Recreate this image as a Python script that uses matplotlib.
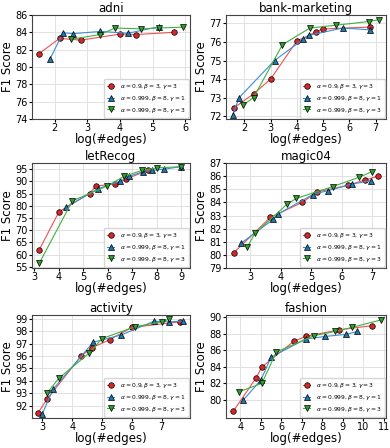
import matplotlib
import matplotlib.pyplot as plt

matplotlib.use('Agg')

labels = [r'$\alpha=0.9, \beta=3, \gamma=3$',
          r'$\alpha=0.999, \beta=8, \gamma=1$',
          r'$\alpha=0.999, \beta=8, \gamma=3$']

# adni
adni_red_x = [1.5, 2.15, 2.8, 4.0, 4.5, 5.65]
adni_red_y = [81.5, 83.3, 83.1, 83.8, 83.75, 84.0]
adni_blue_x = [1.85, 2.25, 2.55, 3.4, 4.25, 5.2]
adni_blue_y = [80.9, 83.95, 83.85, 84.1, 83.9, 84.65]
adni_green_x = [2.5, 3.4, 3.85, 4.65, 5.2, 5.95]
adni_green_y = [83.2, 83.75, 84.5, 84.4, 84.5, 84.6]

# bank-marketing
bank_red_x = [1.6, 2.35, 3.0, 4.0, 4.75, 5.0, 6.8]
bank_red_y = [72.45, 73.2, 74.0, 76.05, 76.55, 76.7, 76.8]
bank_blue_x = [1.55, 1.8, 3.15, 4.25, 4.45, 5.75, 6.8]
bank_blue_y = [72.05, 73.0, 75.0, 76.15, 76.35, 76.75, 76.65]
bank_green_x = [1.95, 2.35, 3.45, 4.5, 5.5, 6.75, 7.15]
bank_green_y = [72.6, 73.0, 75.85, 76.75, 76.9, 77.1, 77.2]

# letRecog
let_red_x = [3.2, 4.0, 5.25, 5.5, 6.3, 6.75, 7.65]
let_red_y = [62.0, 77.5, 85.0, 88.0, 89.0, 91.0, 94.5]
let_blue_x = [4.3, 5.6, 6.5, 6.85, 7.45, 7.8, 8.3, 9.0]
let_blue_y = [79.5, 87.0, 90.0, 92.0, 94.0, 94.5, 95.0, 96.0]
let_green_x = [3.2, 4.55, 5.95, 6.65, 7.4, 8.0, 9.0]
let_green_y = [56.5, 82.0, 88.0, 92.0, 94.5, 95.5, 96.0]

# magic04
magic_red_x = [2.45, 3.65, 4.7, 5.2, 6.2, 6.75, 7.2]
magic_red_y = [80.15, 82.85, 84.0, 84.8, 85.3, 85.7, 86.0]
magic_blue_x = [2.7, 3.75, 3.9, 5.05, 5.55, 6.35, 6.95]
magic_blue_y = [80.9, 82.7, 83.1, 84.6, 84.9, 85.4, 85.65]
magic_green_x = [2.9, 3.15, 4.2, 4.5, 5.7, 6.55, 7.0]
magic_green_y = [80.6, 81.65, 83.85, 84.3, 85.2, 85.9, 86.35]

# activity
act_red_x = [2.85, 3.15, 4.3, 4.65, 5.25, 6.0, 7.6]
act_red_y = [91.4, 92.5, 96.0, 96.65, 97.3, 98.3, 98.75]
act_blue_x = [3.0, 3.35, 4.7, 5.65, 6.75, 7.25, 7.7]
act_blue_y = [91.35, 93.3, 97.1, 97.7, 98.8, 98.75, 98.8]
act_green_x = [3.15, 3.55, 4.55, 5.0, 6.1, 7.0, 7.25]
act_green_y = [93.0, 94.2, 96.2, 97.4, 98.35, 98.75, 98.95]

# fashion
fash_red_x = [3.65, 4.75, 5.05, 6.6, 7.2, 8.8, 10.4]
fash_red_y = [78.6, 82.6, 84.0, 87.1, 87.7, 88.5, 89.0]
fash_blue_x = [4.15, 5.0, 5.5, 7.2, 8.15, 9.15, 9.7]
fash_blue_y = [80.0, 82.4, 85.2, 87.4, 87.7, 87.95, 88.3]
fash_green_x = [3.95, 5.05, 5.75, 7.6, 8.6, 9.45, 10.85]
fash_green_y = [81.0, 82.0, 85.8, 87.8, 88.3, 88.8, 89.7]

panels = [
    ('adni', [(adni_red_x, adni_red_y), (adni_blue_x, adni_blue_y), (adni_green_x, adni_green_y)],
     (74, 86), [74, 76, 78, 80, 82, 84, 86], (1.3, 6.15), [2, 3, 4, 5, 6]),
    ('bank-marketing', [(bank_red_x, bank_red_y), (bank_blue_x, bank_blue_y), (bank_green_x, bank_green_y)],
     (71.85, 77.45), [72, 73, 74, 75, 76, 77], (1.3, 7.4), [2, 3, 4, 5, 6, 7]),
    ('letRecog', [(let_red_x, let_red_y), (let_blue_x, let_blue_y), (let_green_x, let_green_y)],
     (54.5, 97.5), [55, 60, 65, 70, 75, 80, 85, 90, 95], (2.9, 9.35), [3, 4, 5, 6, 7, 8, 9]),
    ('magic04', [(magic_red_x, magic_red_y), (magic_blue_x, magic_blue_y), (magic_green_x, magic_green_y)],
     (79, 87), [79, 80, 81, 82, 83, 84, 85, 86, 87], (2.2, 7.45), [3, 4, 5, 6, 7]),
    ('activity', [(act_red_x, act_red_y), (act_blue_x, act_blue_y), (act_green_x, act_green_y)],
     (91.0, 99.3), [92, 93, 94, 95, 96, 97, 98, 99], (2.65, 7.95), [3, 4, 5, 6, 7]),
    ('fashion', [(fash_red_x, fash_red_y), (fash_blue_x, fash_blue_y), (fash_green_x, fash_green_y)],
     (77.8, 90.3), [80, 82, 84, 86, 88, 90], (3.3, 11.1), [4, 5, 6, 7, 8, 9, 10, 11]),
]

colors = ['#d62728', '#1f77b4', '#2ca02c']
line_colors = ['#f05050', '#3a8fd0', '#40b040']
markers = ['o', '^', 'v']

fig = plt.figure(figsize=(3.9, 4.48), dpi=100)
W, H = 390.0, 448.0
col_lr = [(32, 190), (226, 386)]
row_tb = [(15, 119), (163, 268), (315, 418)]

for i, (title, series, ylim, yticks, xlim, xticks) in enumerate(panels):
    l, r = col_lr[i % 2]
    t, b = row_tb[i // 2]
    ax = fig.add_axes([l / W, 1 - b / H, (r - l) / W, (b - t) / H])
    for (xs, ys), c, lc, m, lab in zip(series, colors, line_colors, markers, labels):
        ax.plot(xs, ys, color=lc, linewidth=0.8, marker=m, markersize=4,
                markerfacecolor=c, markeredgecolor='black', markeredgewidth=0.5, label=lab)
    ax.set_title(title, fontsize=8.5, pad=2)
    ax.set_ylim(ylim)
    ax.set_yticks(yticks)
    ax.set_xlim(xlim)
    ax.set_xticks(xticks)
    ax.tick_params(labelsize=7, length=2, pad=1)
    ax.set_xlabel('log(#edges)', fontsize=8.5, labelpad=0)
    ax.set_ylabel('F1 Score', fontsize=8.5, labelpad=1)
    ax.grid(True, color='#dddddd', linewidth=0.6)
    ax.legend(loc='lower right', fontsize=4.3, handletextpad=0.9, borderpad=0.5,
              labelspacing=0.45, markerscale=1.0, handlelength=1.2, borderaxespad=0.25)
    for sp in ax.spines.values():
        sp.set_color('#444444')
        sp.set_linewidth(0.8)

plt.savefig('out.png', dpi=100)
